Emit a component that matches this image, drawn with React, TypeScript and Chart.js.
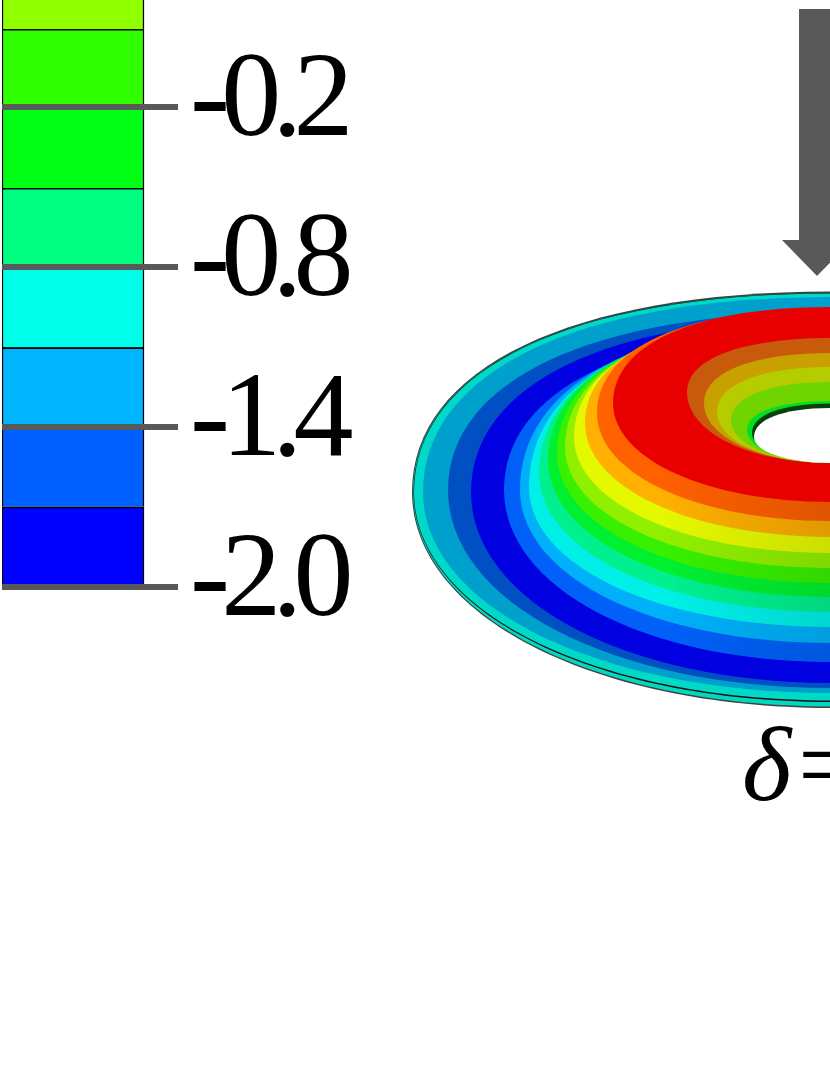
import React, { useEffect, useRef } from "react";
import { Chart, registerables } from "chart.js";

Chart.register(...registerables);

// Colour scale (bottom to top)
const legendLower = [-2.0, -1.698, -1.4, -1.1, -0.8, -0.502, -0.2, 0.095];
const legendUpper = [-1.698, -1.4, -1.1, -0.8, -0.502, -0.2, 0.095, 0.4];
const legendColors = ["#0000ff", "#0060ff", "#00b4ff", "#00ffe8", "#00ff80", "#00ff14", "#30ff00", "#90ff00"];
const legendTicks = [-2.0, -1.4, -0.8, -0.2];

// Contours of the deformed disc, painted from the outside in
const ringLeft = [412, 413, 413.5, 414, 423, 448, 471, 504, 520, 529, 539, 548, 557, 565, 574, 585, 597, 613, 687, 704, 717, 731, 747, 752, 754];
const ringMid = [492, 492, 492, 492, 492, 490, 492, 490, 490, 487, 473, 460, 453, 447, 437, 423, 413, 403, 392, 403, 412, 420, 430, 433, 437];
const ringTop = [291.5, 293, 293, 293.5, 297, 312, 318, 329, 321, 319, 318, 319, 317, 316, 314, 312, 308, 307, 338, 353, 367, 382, 401, 403.5, 408];
const ringBottom = [708, 706.5, 702, 700.5, 693, 688, 683, 662, 643, 627, 612, 597, 583, 568, 553, 537, 521, 502, 463, 463, 463, 463, 463, 462.5, 463];
const ringColors = ["#404040", "#00d8c0", "#101010", "#00d8c8", "#00a0cc", "#0050c4", "#0000e0", "#0060f8", "#00b0f8", "#00f0e8", "#00f090", "#00f030", "#38f000", "#90f000", "#e4f800", "#ffb000", "#ff6000", "#e80000", "#c85a0c", "#c8a000", "#b4cc00", "#70d400", "#00e020", "#0a400a", "#ffffff"];
const ringShade = [0, 0, 0, 0, 0, 0, 0, 0.1, 0.1, 0.1, 0.1, 0.1, 0.1, 0.1, 0.1, 0.12, 0.12, 0, 0, 0, 0, 0, 0, 0, 0];
const discCentreX = 832;

// Load arrow
const arrowX = [799, 835, 835, 852, 817, 782, 799];
const arrowY = [9, 9, 240, 240, 276, 240, 240];

const caption = "δ=";
const captionX = 742;
const captionY = 800;

const discPlugin = {
  id: "disc",
  beforeDraw(chart: any) {
    (chart.ctx as any).letterSpacing = "-8.8px";
  },
  afterDatasetsDraw(chart: any) {
    const { ctx, scales } = chart;
    const px = (v: number) => scales.x.getPixelForValue(v);
    const py = (v: number) => scales.yPage.getPixelForValue(v);
    const kT = 0.62;
    const kB = 0.57;
    ctx.save();
    ctx.beginPath();
    ctx.rect(0, 0, chart.width, chart.height);
    ctx.clip();
    ringLeft.forEach((left, i) => {
      const cx = px(discCentreX);
      const xL = px(left);
      const rx = cx - xL;
      const ym = py(ringMid[i]);
      const yt = py(ringTop[i]);
      const yb = py(ringBottom[i]);
      const path = new Path2D();
      path.moveTo(xL, ym);
      path.bezierCurveTo(xL, ym - (ym - yt) * kT, cx - rx * kT, yt, cx, yt);
      path.bezierCurveTo(cx + rx * kT, yt, cx + rx, ym - (ym - yt) * kT, cx + rx, ym);
      path.bezierCurveTo(cx + rx, ym + (yb - ym) * kB, cx + rx * kB, yb, cx, yb);
      path.bezierCurveTo(cx - rx * kB, yb, xL, ym + (yb - ym) * kB, xL, ym);
      path.closePath();
      ctx.fillStyle = ringColors[i];
      ctx.fill(path);
      if (ringShade[i] > 0) {
        const g = ctx.createLinearGradient(px(660), 0, px(830), 0);
        g.addColorStop(0, "rgba(0,0,0,0)");
        g.addColorStop(1, `rgba(0,0,0,${ringShade[i]})`);
        ctx.fillStyle = g;
        ctx.fill(path);
      }
    });
    ctx.beginPath();
    arrowX.forEach((x, i) => {
      if (i === 0) ctx.moveTo(px(x), py(arrowY[i]));
      else ctx.lineTo(px(x), py(arrowY[i]));
    });
    ctx.closePath();
    ctx.fillStyle = "#595959";
    ctx.fill();
    ctx.letterSpacing = "0px";
    ctx.font = "italic 106px 'Liberation Serif'";
    ctx.textAlign = "left";
    ctx.textBaseline = "alphabetic";
    ctx.fillStyle = "#000000";
    ctx.fillText(caption, px(captionX), py(captionY));
    ctx.restore();
  },
};

export default function App() {
  const ref = useRef<HTMLCanvasElement | null>(null);
  useEffect(() => {
    if (!ref.current) return;
    const chart = new Chart(ref.current, {
      type: "bar",
      data: {
        datasets: [
          {
            data: legendLower.map((low, i) => ({ x: 73, y: [low, legendUpper[i]] })) as any,
            backgroundColor: legendColors,
            borderColor: "#000000",
            borderWidth: { top: 2, right: 1.5, bottom: 0, left: 1.5 },
            borderSkipped: false,
            barThickness: 142,
          },
        ],
      },
      options: {
        responsive: false,
        animation: false,
        layout: { padding: { left: 2, top: 0, right: 0, bottom: 0 } },
        plugins: { legend: { display: false }, tooltip: { enabled: false } },
        scales: {
          x: { type: "linear", min: 2, max: 145, display: false, offset: false },
          y: {
            type: "linear",
            position: "right",
            min: 0.2035 - 1075 / 266.4,
            max: 0.2035,
            afterBuildTicks(scale: any) {
              scale.ticks = legendTicks.map((value) => ({ value }));
            },
            afterFit(scale: any) {
              scale.width = 685;
              scale.paddingTop = 0;
              scale.paddingBottom = 0;
            },
            border: { display: false },
            grid: { color: "#595959", lineWidth: 6, tickLength: 33, tickColor: "#595959", z: 1 },
            ticks: {
              autoSkip: false,
              padding: 12,
              labelOffset: -4,
              color: "#000000",
              font: { family: "'Liberation Serif'", size: 120 },
              callback: (v: any) => Number(v).toFixed(1),
            },
          },
          yPage: { type: "linear", min: 0, max: 1075, reverse: true, display: false },
        },
      },
      plugins: [discPlugin],
    } as any);
    return () => chart.destroy();
  }, []);
  return (
    <div style={{ position: "absolute", left: 0, top: 0, width: 830, height: 1075, overflow: "hidden", background: "#ffffff" }}>
      <canvas ref={ref} width={830} height={1075} style={{ display: "block" }} />
    </div>
  );
}
